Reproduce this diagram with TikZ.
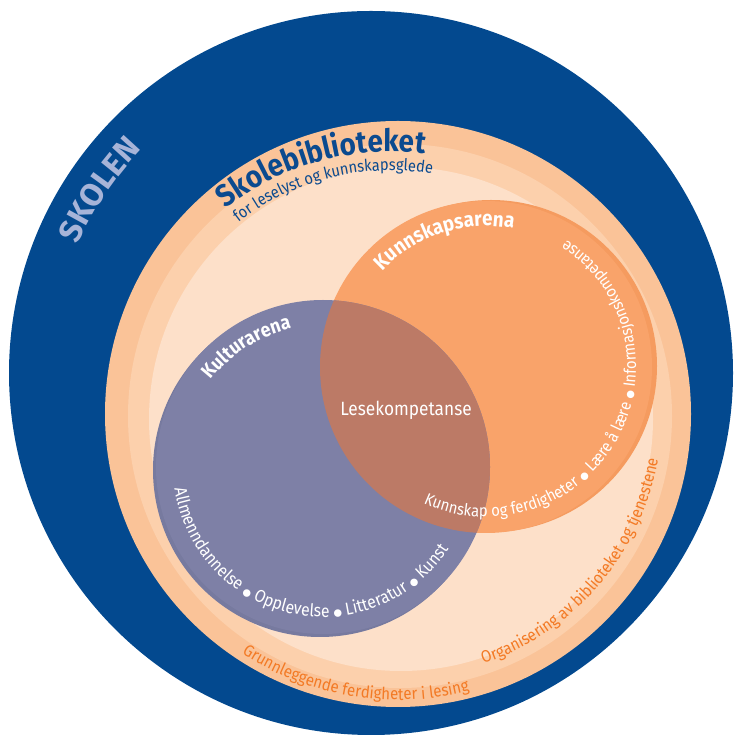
\documentclass[tikz,border=0pt]{standalone}
\usepackage{fontspec}
\setmainfont{Fira Sans}
\newfontfamily\cnd[FakeStretch=0.9]{Fira Sans}
\newfontfamily\djv{DejaVu Sans}
\usetikzlibrary{decorations.text,calc}
\definecolor{skblue}{HTML}{03498F}
\definecolor{skolentxt}{HTML}{A7B4D8}
\definecolor{ringA}{HTML}{FAC398}
\definecolor{ringB}{HTML}{FCD0AC}
\definecolor{ringC}{HTML}{FDE0C9}
\definecolor{kultur}{HTML}{7E80A6}
\definecolor{kulturdark}{HTML}{777A9F}
\definecolor{kunn}{HTML}{F9A36A}
\definecolor{kunndark}{HTML}{F59B5F}
\definecolor{lese}{HTML}{BC7A66}
\definecolor{orangetxt}{HTML}{F37A25}
\definecolor{titleblue}{HTML}{0B4A8F}
\newcommand\wkun{\cnd\fontsize{16.5}{16.5}\selectfont\color{white}}
\newcommand\wkul{\cnd\fontsize{17.5}{17.5}\selectfont\color{white}}
\newcommand\bulw{\djv\fontsize{9.8}{9.8}\selectfont\color{white}}
\tikzset{
  arctext/.style={decorate, decoration={text along path, text align=center, text={#1}}}
}
\begin{document}
\begin{tikzpicture}[x=1pt,y=1pt]
\useasboundingbox (0,0) rectangle (734,736);
\coordinate (cBlue) at (371,363);
\coordinate (cA) at (398,322);
\coordinate (cB) at (400,320);
\coordinate (cC) at (401,317);
\coordinate (cKul) at (323,269);
\coordinate (cKun) at (486,369);
\coordinate (cTitle) at (390,318);
\begin{scope}
\clip (0,0) rectangle (734,736);
\fill[skblue] (cBlue) circle[radius=362];
\end{scope}
\fill[ringA] (cA) circle[radius=293];
\fill[ringB] (cB) circle[radius=272];
\fill[ringC] (cC) circle[radius=252];
% Kunnskapsarena
\fill[kunndark] ($(cKun)+(5,1)$) circle[radius=166];
\fill[kunn] (cKun) circle[radius=166];
% Kulturarena
\fill[kulturdark] ($(cKul)+(-3,-3)$) circle[radius=167];
\fill[kultur] (cKul) circle[radius=167];
% overlap
\begin{scope}
\clip (cKul) circle[radius=167];
\fill[lese] (cKun) circle[radius=166];
\end{scope}
\node[text=white, font=\cnd\fontsize{19.2}{19.2}\selectfont] (lese) at (406,326) {Lesekompetanse};
% curved texts
\path[arctext={|\bfseries\fontsize{32}{32}\selectfont\color{skolentxt}|SKOLEN}]
  ($(cBlue)+(186:320)$) arc[start angle=186, end angle=106, radius=320];
\path[arctext={|\cnd\bfseries\fontsize{30.8}{30.8}\selectfont\color{titleblue}|Skolebiblioteket}]
  ($(cTitle)+(165.3:266)$) arc[start angle=165.3, end angle=45.3, radius=266];
\path[arctext={|\cnd\fontsize{16.3}{16.3}\selectfont\color{titleblue}|for leselyst og kunnskapsglede}]
  ($(cTitle)+(164:247.5)$) arc[start angle=164, end angle=44, radius=247.5];
\path[arctext={|\cnd\bfseries\fontsize{20.9}{20.9}\selectfont\color{white}|Kunnskapsarena}]
  ($(cKun)+(178:141)$) arc[start angle=178, end angle=38, radius=141];
\path[arctext={|\cnd\bfseries\fontsize{19.8}{19.8}\selectfont\color{white}|Kulturarena}]
  ($(cKul)+(190:142)$) arc[start angle=190, end angle=55, radius=142];
\path[arctext={|\wkul|Allmenndannelse |\bulw|●|\wkul| Opplevelse |\bulw|●|\wkul| Litteratur |\bulw|●|\wkul| Kunst}]
  ($(cKul)+(167.5:150)$) arc[start angle=167.5, end angle=347.5, radius=150];
\path[arctext={|\wkun|Kunnskap og ferdigheter |\bulw|●|\wkun| Lære å lære |\bulw|●|\wkun| Informasjonskompetanse}]
  ($(cKun)+(226.5:150)$) arc[start angle=226.5, end angle=436.5, radius=150];
\path[arctext={|\cnd\fontsize{16.7}{16.7}\selectfont\color{orangetxt}|Grunnleggende ferdigheter i lesing}]
  ($(cA)+(225:286)$) arc[start angle=225, end angle=296.4, radius=286];
\path[arctext={|\cnd\fontsize{16.7}{16.7}\selectfont\color{orangetxt}|Organisering av biblioteket og tjenestene}]
  ($(cA)+(280:264)$) arc[start angle=280, end angle=359, radius=264];
\end{tikzpicture}
\end{document}
